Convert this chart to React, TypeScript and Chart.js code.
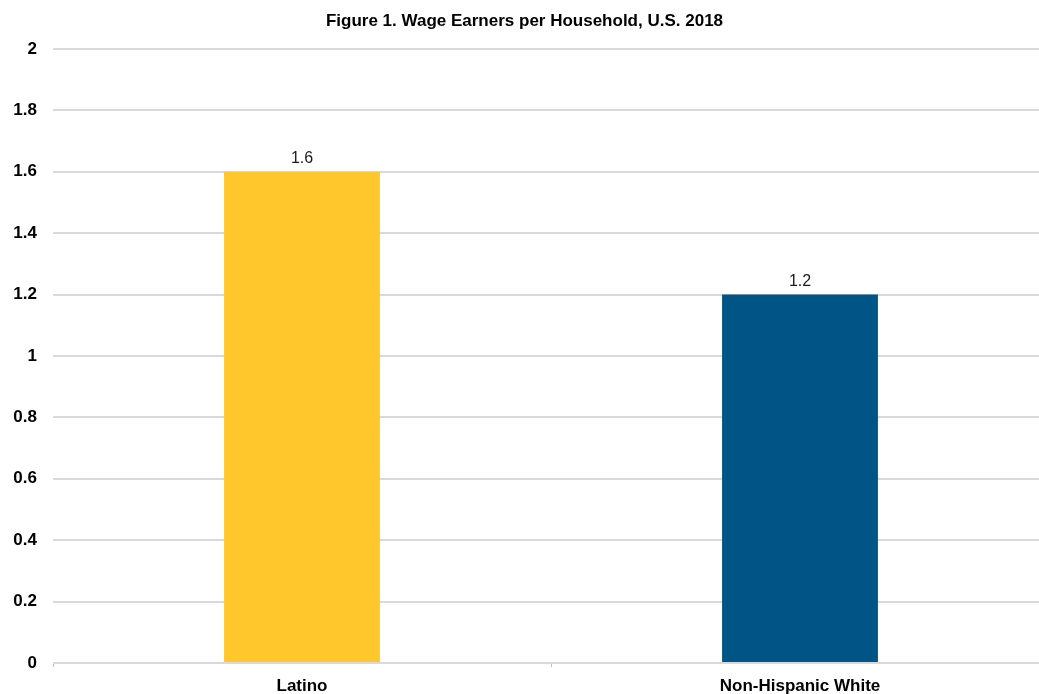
import React, { useEffect, useRef } from "react";
import { Chart, registerables } from "chart.js";

Chart.register(...registerables);

const TITLE = "Figure 1. Wage Earners per Household, U.S. 2018";
const categories = ["Latino", "Non-Hispanic White"];
const values = [1.6, 1.2];
const barColors = ["#FFC72C", "#005587"];
const yMin = 0;
const yMax = 2;
const yStep = 0.2;

const FONT = "'Liberation Sans', Arial, sans-serif";

const dataLabelPlugin = {
  id: "dataLabels",
  afterDatasetsDraw(chart: any) {
    const ctx = chart.ctx;
    const meta = chart.getDatasetMeta(0);
    ctx.save();
    ctx.font = `16px ${FONT}`;
    ctx.fillStyle = "#1a1a1a";
    ctx.textAlign = "center";
    ctx.textBaseline = "alphabetic";
    meta.data.forEach((el: any, i: number) => {
      const v = chart.data.datasets[0].data[i];
      ctx.fillText(String(v), el.x, el.y - 9);
    });
    ctx.restore();
  },
};

export default function App() {
  const ref = useRef<HTMLCanvasElement>(null);
  useEffect(() => {
    if (!ref.current) return;
    const chart = new Chart(ref.current, {
      type: "bar",
      data: {
        labels: categories,
        datasets: [
          {
            data: values,
            backgroundColor: barColors,
            barPercentage: 1,
            categoryPercentage: 0.313,
          },
        ],
      },
      options: {
        responsive: false,
        animation: false,
        devicePixelRatio: 1,
        layout: { padding: 0, autoPadding: false },
        plugins: {
          legend: { display: false },
          tooltip: { enabled: false },
          title: {
            display: true,
            text: TITLE,
            color: "#000",
            font: { family: FONT, size: 17, weight: "bold", lineHeight: 1.2 },
            padding: { top: 11, bottom: 17.6 },
          },
        },
        scales: {
          x: {
            offset: true,
            border: { display: false },
            grid: {
              display: true,
              drawOnChartArea: false,
              drawTicks: true,
              tickLength: 4,
              color: "#bfbfbf",
              lineWidth: 1,
            },
            ticks: {
              color: "#000",
              padding: 11,
              font: { family: FONT, size: 17, weight: "bold", lineHeight: 1 },
            },
            afterFit: (scale: any) => {
              scale.height = 31;
            },
          },
          y: {
            min: yMin,
            max: yMax,
            border: { display: false },
            grid: {
              color: "#d9d9d9",
              lineWidth: 2,
              drawTicks: false,
            },
            ticks: {
              stepSize: yStep,
              color: "#000",
              padding: 16,
              font: { family: FONT, size: 17, weight: "bold" },
              callback: (v: any) => String(+Number(v).toFixed(1)),
            },
            afterFit: (scale: any) => {
              scale.width = 53;
            },
          },
        },
      },
      plugins: [dataLabelPlugin],
    });
    return () => chart.destroy();
  }, []);
  return (
    <div
      style={{
        position: "absolute",
        left: 0,
        top: 0,
        width: 1039,
        height: 694,
        overflow: "hidden",
        background: "#fff",
      }}
    >
      <canvas ref={ref} width={1049} height={694} style={{ display: "block" }} />
    </div>
  );
}
